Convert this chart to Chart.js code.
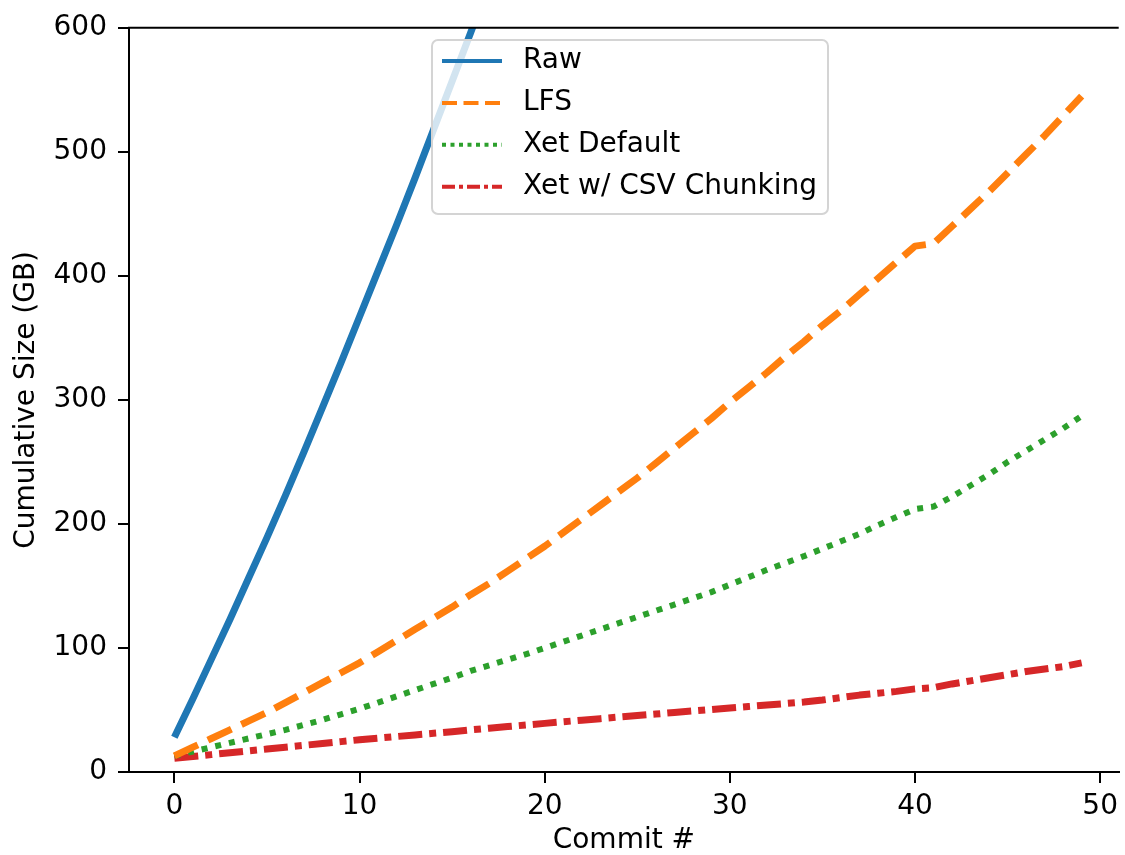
<!DOCTYPE html>
<html>
<head>
<meta charset="utf-8">
<script src="https://cdn.jsdelivr.net/npm/chart.js@4.4.1/dist/chart.umd.min.js"></script>
<style>
  html, body { margin: 0; padding: 0; background: #fff; overflow: hidden; }
  #wrap { width: 1125px; height: 855px; }
</style>
</head>
<body>
<div id="wrap"><canvas id="sizeChart" width="1125" height="855"></canvas></div>
<script>
// commit index on the x axis
const commits = [0, 1, 2, 3, 4, 5, 6, 7, 8, 9, 10, 11, 12, 13, 14, 15, 16, 17, 18, 19,
  20, 21, 22, 23, 24, 25, 26, 27, 28, 29, 30, 31, 32, 33, 34, 35, 36, 37, 38, 39,
  40, 41, 42, 43, 44, 45, 46, 47, 48, 49];

// cumulative size in GB (raw goes off the top after ~16)
const rawSize = [28, 59, 91, 123, 156, 189, 223, 258, 294, 330, 367, 404, 441, 479, 518, 557,
  596, 636, 677, 718, 760, 803, 847, 892, 938, 985, 1033, 1082, 1132, 1183, 1235, 1288, 1342,
  1397, 1453, 1510, 1568, 1627, 1687, 1748, 1810, 1818, 1880, 1943, 2007, 2072, 2138, 2205, 2273, 2342];
const lfsSize = [13, 20, 27, 34, 41, 48, 56, 64, 72, 80, 88, 97, 106, 115, 124, 133,
  143, 152, 162, 172, 182, 193, 204, 215, 226, 237, 249, 261, 273, 285, 298, 310, 322,
  335, 347, 360, 372, 385, 398, 411, 424, 426, 440, 454, 468, 483, 498, 513, 529, 545];
const xetDefault = [13, 16.5, 20, 23.5, 27, 30.5, 34, 38, 42, 46.5, 51, 56, 61, 66, 71, 76,
  81.5, 86, 90.5, 95, 100, 105, 110, 115, 120, 125, 130, 135, 140, 145, 151, 157, 163,
  168.5, 174, 180, 186, 192, 199, 205.5, 212, 214, 222, 231, 240, 250, 259, 268, 277, 287];
const xetCsv = [11, 12.5, 14, 15.5, 17, 18.5, 20, 21.5, 23, 24.5, 26, 27.3, 28.6, 29.9, 31.2, 32.5,
  34, 35.3, 36.6, 37.9, 39.2, 40.5, 41.8, 43, 44.3, 45.5, 46.7, 48, 49.2, 50.4, 51.6, 52.8, 54,
  55.2, 56.4, 58, 60, 62, 63.5, 65, 67, 68, 71, 73.5, 76, 78.5, 81, 83, 85, 88];

const seriesLabels = ['Raw', 'LFS', 'Xet Default', 'Xet w/ CSV Chunking'];
const xTicks = [0, 10, 20, 30, 40, 50];
const yTicks = [0, 100, 200, 300, 400, 500, 600];

const colors = ['#1f77b4', '#ff7f0e', '#2ca02c', '#d62728'];
const lineDashes = [[], [26, 11], [6, 8], [24, 7, 7, 7]];
const legendDashes = [[], [15, 6.5], [4, 4.5], [13, 4, 4, 4]];
const lineWidths = [7, 7, 6, 7];

const FONT = '"DejaVu Sans", sans-serif';
const FONT_SIZE = 28;

function toPoints(values) {
  return commits.map((c, i) => ({ x: c, y: values[i] }));
}

const allSeries = [rawSize, lfsSize, xetDefault, xetCsv];

// top spine + semi transparent legend drawn over the lines like matplotlib
const frameAndLegend = {
  id: 'frameAndLegend',
  afterDatasetsDraw(chart) {
    const ctx = chart.ctx;
    const area = chart.chartArea;
    ctx.save();
    ctx.strokeStyle = '#000';
    ctx.lineWidth = 2;
    ctx.beginPath();
    ctx.moveTo(area.left - 1, area.top);
    ctx.lineTo(area.right, area.top);
    ctx.stroke();

    const bx = 432, by = 40, bw = 396, bh = 174;
    ctx.beginPath();
    ctx.roundRect(bx, by, bw, bh, 6);
    ctx.fillStyle = 'rgba(255,255,255,0.8)';
    ctx.fill();
    ctx.strokeStyle = '#d4d4d4';
    ctx.lineWidth = 2;
    ctx.stroke();

    ctx.font = FONT_SIZE + 'px ' + FONT;
    ctx.textBaseline = 'middle';
    ctx.textAlign = 'left';
    chart.data.datasets.forEach((ds, i) => {
      const rowY = 61 + i * 41.9;
      ctx.beginPath();
      ctx.setLineDash(legendDashes[i]);
      ctx.lineCap = 'butt';
      ctx.strokeStyle = colors[i];
      ctx.lineWidth = 4;
      ctx.moveTo(442, rowY);
      ctx.lineTo(502, rowY);
      ctx.stroke();
      ctx.setLineDash([]);
      ctx.fillStyle = '#000';
      ctx.fillText(ds.label, 523, rowY);
    });
    ctx.restore();
  }
};

const ctx = document.getElementById('sizeChart').getContext('2d');
const sizeChart = new Chart(ctx, {
  type: 'line',
  data: {
    datasets: seriesLabels.map((label, i) => ({
      label: label,
      data: toPoints(allSeries[i]),
      borderColor: colors[i],
      backgroundColor: colors[i],
      borderWidth: lineWidths[i],
      borderDash: lineDashes[i],
      borderJoinStyle: 'round',
      borderCapStyle: 'butt',
      pointRadius: 0,
      tension: 0,
      fill: false,
      clip: 0
    }))
  },
  options: {
    responsive: false,
    devicePixelRatio: 1,
    animation: false,
    layout: { padding: { top: 25, right: 0, bottom: 0, left: 0 } },
    plugins: {
      legend: { display: false },
      tooltip: { enabled: false }
    },
    scales: {
      x: {
        type: 'linear',
        min: -2.45,
        max: 51.0,
        afterBuildTicks: (scale) => { scale.ticks = xTicks.map(v => ({ value: v })); },
        afterFit: (scale) => { scale.height = 83; },
        grid: { drawOnChartArea: false, tickLength: 11, color: '#000', lineWidth: 2 },
        border: { display: true, color: '#000', width: 2 },
        ticks: { color: '#000', font: { family: FONT, size: FONT_SIZE }, padding: 7, maxRotation: 0 },
        title: {
          display: true, text: 'Commit #', color: '#000',
          font: { family: FONT, size: FONT_SIZE, lineHeight: 1 }, padding: { top: 0, bottom: 0 }
        }
      },
      y: {
        min: 0,
        max: 600,
        afterBuildTicks: (scale) => { scale.ticks = yTicks.map(v => ({ value: v })); },
        afterFit: (scale) => { scale.width = 129; },
        grid: { drawOnChartArea: false, tickLength: 11, color: '#000', lineWidth: 2 },
        border: { display: true, color: '#000', width: 2 },
        ticks: { color: '#000', font: { family: FONT, size: FONT_SIZE }, padding: 11 },
        title: {
          display: true, text: 'Cumulative Size (GB)', color: '#000',
          font: { family: FONT, size: FONT_SIZE, lineHeight: 1.2 }, padding: { top: 10, bottom: 0 }
        }
      }
    }
  },
  plugins: [frameAndLegend]
});
</script>
</body>
</html>
